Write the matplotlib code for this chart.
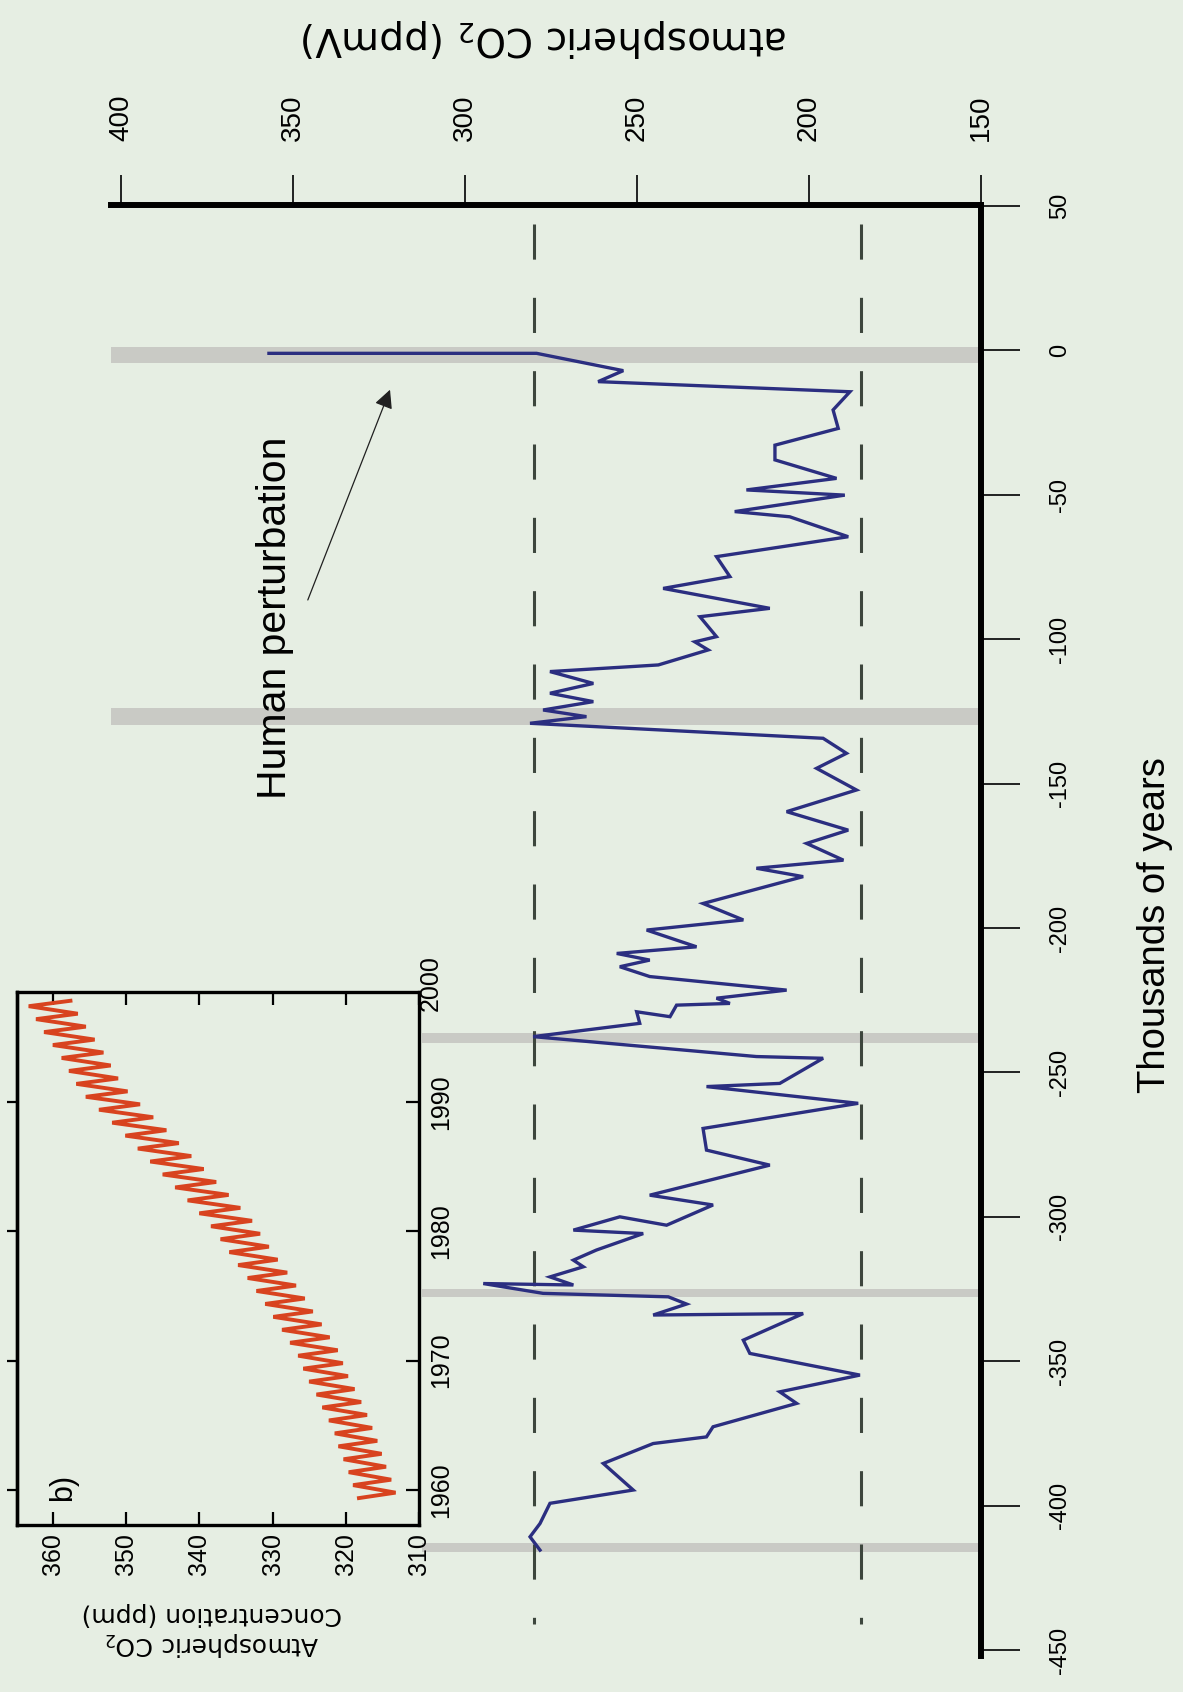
import matplotlib
matplotlib.use("Agg")
import matplotlib.pyplot as plt
import numpy as np

# ---------------- data ----------------
# Vostok ice-core CO2, path order from present back in time (kyr, ppmV)
age_kyr = [-1.0, -1.0, -7.0, -10.8, -14.3, -20.6, -27.0, -32.8, -37.9, -44.3,
           -48.3, -50.1, -55.8, -57.6, -64.5, -71.4, -78.3, -82.4, -89.3, -92.2,
           -99.1, -100.9, -103.7, -108.9, -111.2, -115.3, -118.7, -121.6, -124.5, -126.8,
           -129.1, -134.3,
           -139.5, -144.7, -152.2, -159.7, -166.1, -170.7, -176.5, -179.3, -182.2, -191.5,
           -197.2, -200.7, -206.5, -208.8, -211.1, -213.4, -216.8, -221.5, -224.3, -226.1,
           -226.7, -230.7, -229.0, -233.0, -237.6, -244.5, -245.1, -253.8, -254.9, -260.7,
           -269.4,
           -276.9, -282.1, -292.5, -295.9, -302.9, -300.0, -304.6, -305.8, -311.5, -315.0,
           -317.3, -320.8, -323.6, -323.1, -326.5, -327.7, -330.2, -334.0, -333.5, -342.7,
           -347.3, -354.8, -360.6, -364.6, -372.7, -376.2, -378.5, -385.4, -394.6, -399.2,
           -406.2, -410.8, -415.4]
co2_ppmv = [357.0, 279.2, 254.0, 261.3, 188.1, 193.0, 191.5, 209.9, 209.9, 192.0,
            218.2, 189.6, 221.6, 205.6, 188.6, 226.9, 223.0, 242.4, 211.4, 231.7,
            226.9, 233.2, 229.3, 243.8, 275.3, 262.7, 275.3, 262.7, 277.3, 264.7,
            281.1, 195.9,
            189.1, 197.8, 186.2, 206.5, 188.6, 200.7, 190.0, 215.3, 201.7, 230.8,
            219.1, 247.2, 232.7, 255.9, 246.3, 255.0, 246.3, 206.5, 226.9, 223.0,
            238.5, 240.4, 250.1, 249.2, 280.2, 215.3, 195.9, 208.5, 229.8, 185.7,
            230.8,
            229.8, 211.4, 246.3, 227.9, 241.4, 255.0, 268.5, 248.2, 261.8, 268.5,
            265.6, 275.3, 268.5, 294.7, 277.3, 240.9, 235.6, 245.3, 201.7, 219.1,
            217.2, 185.2, 208.5, 203.6, 227.9, 229.8, 245.3, 259.8, 251.1, 275.3,
            278.2, 281.1, 278.2]

# interglacial markers (kyr) and their widths
band_centers = [-1.6, -126.8, -238.2, -326.3, -414.5]
band_widths = [5.8, 5.8, 3.5, 2.8, 2.8]
ref_levels = [280, 185]

time_ticks = [-450, -400, -350, -300, -250, -200, -150, -100, -50, 0, 50]
time_labels = ['-450', '-400', '-350', '-300', '-250', '-200', '-150', '-100', '-50', '0', '50']
co2_ticks = [400, 350, 300, 250, 200, 150]
co2_labels = ['400', '350', '300', '250', '200', '150']

# inset: Mauna Loa seasonal peaks / troughs per year
ml_years = list(range(1959, 1998))
ml_peaks = [318.2, 319.0, 319.6, 320.3, 321.0, 321.5, 322.3, 323.2, 324.0, 325.0,
            325.8, 326.5, 327.6, 328.7, 329.9, 331.0, 332.2, 333.4, 334.7, 335.9,
            337.1, 338.4, 340.0, 341.6, 343.3, 345.0, 346.7, 348.4, 350.1, 351.9,
            353.7, 355.5, 356.8, 357.8, 358.8, 360.0, 361.2, 362.3, 363.3]
ml_troughs = [313.2, 313.8, 314.5, 315.1, 315.7, 316.4, 317.1, 317.9, 318.8, 319.7,
              320.4, 321.1, 322.2, 323.3, 324.5, 325.6, 326.8, 328.0, 329.3, 330.5,
              331.7, 332.8, 334.4, 336.0, 337.7, 339.4, 341.1, 342.8, 344.5, 346.3,
              348.1, 349.8, 351.1, 352.1, 353.1, 354.3, 355.5, 356.6, 357.6]
inset_x_ticks = [360, 350, 340, 330, 320, 310]
inset_y_ticks = [1960, 1970, 1980, 1990]

# ---------------- styling ----------------
BG = '#e6eee3'
LINE = '#2b2e80'
SANS = ['Liberation Sans', 'DejaVu Sans']
W, H = 1183, 1692

fig = plt.figure(figsize=(W / 100, H / 100), dpi=100, facecolor=BG)

# main axes (rotated layout: x = CO2 (inverted), y = time)
ax = fig.add_axes([110.7 / W, 1 - 1655.8 / H, 870.3 / W, (1655.8 - 204.6) / H])
ax.set_facecolor(BG)
ax.set_xlim(403, 150)
ax.set_ylim(-452, 50.5)

for i, (c, w) in enumerate(zip(band_centers, band_widths)):
    xmin = 0.0 if i < 2 else 0.358
    ax.axhspan(c - w / 2, c + w / 2, xmin=xmin, xmax=1, color='#c9cac5', lw=0, zorder=1)

for lev in ref_levels:
    ax.plot([lev, lev], [43.8, -441], color='#3d463d', lw=2.2,
            dashes=(11.5, 12.5), zorder=2)

ax.plot(co2_ppmv, age_kyr, color=LINE, lw=2.4, zorder=3, solid_joinstyle='miter')

for s in ['left', 'bottom']:
    ax.spines[s].set_visible(False)
for s in ['top', 'right']:
    ax.spines[s].set_linewidth(4.3)
    ax.spines[s].set_color('black')

ax.set_yticks(time_ticks, time_labels)
ax.set_xticks(co2_ticks, co2_labels)
ax.tick_params(axis='y', left=False, labelleft=False, right=True, labelright=True,
               direction='out', length=28, width=1.2, pad=21, labelsize=17,
               labelrotation=90)
ax.tick_params(axis='x', bottom=False, labelbottom=False, top=True, labeltop=True,
               direction='out', length=21.6, width=1.2, pad=24, labelsize=20,
               labelrotation=90)
for lbl in ax.get_yticklabels():
    lbl.set_family(SANS)
    lbl.set_va('center')
for lbl in ax.get_xticklabels():
    lbl.set_family(SANS)

ax.text(355.2, -92.7, 'Human perturbation', rotation=90, ha='center', va='center',
        fontsize=29.5, family=SANS, zorder=4)
ax.annotate('', xy=(321.8, -13.6), xytext=(345.7, -86.4),
            arrowprops=dict(arrowstyle='-|>', color='#202020', lw=0.9,
                            mutation_scale=28, shrinkA=0, shrinkB=0), zorder=4)

fig.text(1155 / W, 1 - 925 / H, 'Thousands of years', rotation=90, ha='center',
         va='center', fontsize=27.5, family=SANS)
fig.text(545 / W, 1 - 38 / H, 'atmospheric CO$_2$ (ppmV)', rotation=180, ha='center',
         va='center', fontsize=28, family='DejaVu Sans')

# ---------------- inset ----------------
axi = fig.add_axes([17 / W, 1 - 1525 / H, (419 - 17) / W, (1525 - 991.7) / H], zorder=5)
axi.set_facecolor(BG)
axi.set_xlim(364.9, 310)
axi.set_ylim(1957.3, 1998.5)

tt, vv = [], []
for y, p, t in zip(ml_years, ml_peaks, ml_troughs):
    tt += [y + 0.38, y + 0.8]
    vv += [p, t]
axi.plot(vv, tt, color='#d8431f', lw=2.8, solid_joinstyle='miter')

for s in axi.spines.values():
    s.set_linewidth(2.4)
axi.set_xticks(inset_x_ticks, [str(v) for v in inset_x_ticks])
axi.tick_params(axis='x', top=True, bottom=True, direction='in', length=9.4, width=1.6,
                pad=5.5, labelsize=18, labelrotation=90)
axi.yaxis.tick_right()
axi.set_yticks(inset_y_ticks, [str(v) for v in inset_y_ticks])
axi.tick_params(axis='y', left=False, right=True, labelright=True, direction='in',
                length=9.4, width=1.6, pad=7, labelsize=18, labelrotation=90)
for lbl in axi.get_yticklabels() + axi.get_xticklabels():
    lbl.set_family(SANS)
for lbl in axi.get_yticklabels():
    lbl.set_va('center')
axi.text(1.0, 1999.2, '2000', transform=axi.get_yaxis_transform(), rotation=90,
         ha='left', va='center', fontsize=18, family=SANS, clip_on=False)

sec = axi.secondary_yaxis('left')
sec.set_yticks(inset_y_ticks)
sec.tick_params(axis='y', direction='out', length=7, width=1.6, labelleft=False)
sec.spines['left'].set_linewidth(2.4)

axi.text(358.6, 1960.2, 'b)', rotation=90, ha='center', va='center', fontsize=22,
         family=SANS)

fig.text(212 / W, 1 - 1630 / H, 'Atmospheric CO$_2$\nConcentration (ppm)', rotation=180,
         ha='center', va='center', fontsize=18, family='DejaVu Sans',
         multialignment='center', linespacing=1.25)

fig.savefig('out.png', dpi=100, facecolor=BG)
